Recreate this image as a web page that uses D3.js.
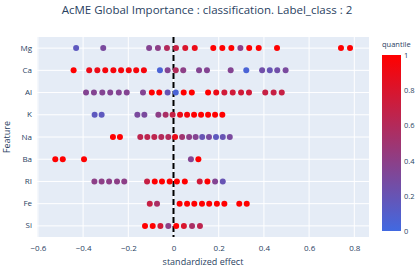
<!DOCTYPE html>
<html>
<head>
<meta charset="utf-8">
<script src="https://cdn.jsdelivr.net/npm/d3@7"></script>
<style>
  body { margin: 0; background: #fff; }
  text { font-family: "Open Sans", "DejaVu Sans", sans-serif; fill: #2a3f5f; }
</style>
</head>
<body>
<div id="chart"></div>
<script>
// Features, top to bottom
const features = ['Mg', 'Ca', 'Al', 'K', 'Na', 'Ba', 'RI', 'Fe', 'Si'];

// Standardized effect per feature
const effects = {
    Mg: [-0.431, -0.311, -0.108, -0.069, -0.029, 0.011, 0.052, 0.094, 0.176, 0.216, 0.256, 0.296, 0.335, 0.377, 0.458, 0.741, 0.781],
    Ca: [-0.442, -0.373, -0.337, -0.302, -0.266, -0.232, -0.198, -0.165, -0.131, -0.060, -0.026, 0.010, 0.043, 0.113, 0.148, 0.253, 0.322, 0.392, 0.426, 0.459, 0.496],
    Al: [-0.387, -0.352, -0.315, -0.280, -0.242, -0.207, -0.135, -0.096, -0.063, -0.026, 0.010, 0.045, 0.081, 0.153, 0.189, 0.225, 0.262, 0.299, 0.334, 0.406, 0.443, 0.479],
    K:  [-0.349, -0.318, -0.160, -0.129, -0.067, -0.035, -0.004, 0.029, 0.060, 0.091, 0.122, 0.153, 0.184, 0.216],
    Na: [-0.268, -0.237, -0.147, -0.116, -0.085, -0.054, -0.023, 0.007, 0.038, 0.069, 0.098, 0.127, 0.157, 0.188, 0.218, 0.249],
    Ba: [-0.523, -0.490, -0.396, 0.077, 0.110],
    RI: [-0.350, -0.318, -0.285, -0.250, -0.218, -0.117, -0.083, -0.051, -0.017, 0.015, 0.050, 0.116, 0.150, 0.184, 0.218],
    Fe: [-0.105, -0.073, 0.027, 0.060, 0.092, 0.126, 0.158, 0.192, 0.225, 0.291, 0.324],
    Si: [-0.126, -0.092, -0.058, -0.023, 0.012, 0.046, 0.082, 0.117]
};

// Quantile (colour) for each point, same order
const quantiles = {
    Mg: [0.15, 0.3, 0.35, 0.4, 0.6, 0.7, 0.8, 0.9, 1, 1, 1, 0.4, 1, 1, 1, 1, 1],
    Ca: [1, 0.9, 0.9, 0.95, 0.95, 0.95, 0.95, 0.95, 0.95, 0.05, 0.35, 0.6, 0.4, 0.35, 0.35, 0.35, 0.05, 0.25, 0.2, 0.25, 0.3],
    Al: [0.35, 0.35, 0.35, 0.35, 0.35, 0.35, 0.35, 1, 1, 0.2, 0.05, 1, 1, 1, 0.9, 0.75, 0.75, 0.75, 0.75, 0.7, 0.7, 0.7],
    K:  [0.15, 0.15, 0.3, 0.3, 0.4, 0.55, 0.7, 0.9, 0.95, 1, 1, 1, 1, 1],
    Na: [1, 1, 0.65, 0.65, 0.65, 0.6, 0.6, 0.9, 0.5, 0.4, 0.35, 0.2, 0.3, 0.15, 0.2, 0.3],
    Ba: [1, 1, 1, 0.35, 1],
    RI: [0.4, 0.4, 0.4, 0.4, 0.4, 0.7, 1, 1, 1, 1, 1, 0.75, 1, 0.35, 0.2],
    Fe: [0.7, 0.55, 1, 1, 1, 1, 1, 1, 1, 1, 1],
    Si: [1, 1, 0.75, 0.4, 1, 0.8, 0.55, 0.65]
};

const xTicks = [-0.6, -0.4, -0.2, 0, 0.2, 0.4, 0.6, 0.8];
const cbTicks = [0, 0.2, 0.4, 0.6, 0.8, 1];

const width = 416, height = 267;
const plot = { left: 37, right: 369, top: 37, bottom: 237 };

const svg = d3.select('#chart').append('svg')
    .attr('width', width)
    .attr('height', height);

const x = d3.scaleLinear().domain([-0.604, 0.865]).range([plot.left, plot.right]);
const y = d3.scaleBand().domain(features).range([plot.top, plot.bottom]);
const color = d3.scaleLinear().domain([0, 1]).range(['rgb(65,105,225)', 'rgb(255,0,0)']);

// Plot background
svg.append('rect')
    .attr('x', plot.left).attr('y', plot.top)
    .attr('width', plot.right - plot.left).attr('height', plot.bottom - plot.top)
    .attr('fill', '#E5ECF6');

// Grid lines
svg.append('g').selectAll('line')
    .data(xTicks)
    .enter().append('line')
    .attr('x1', d => x(d)).attr('x2', d => x(d))
    .attr('y1', plot.top).attr('y2', plot.bottom)
    .attr('stroke', '#fff').attr('stroke-width', 1);

svg.append('g').selectAll('line')
    .data(features)
    .enter().append('line')
    .attr('x1', plot.left).attr('x2', plot.right)
    .attr('y1', d => y(d) + y.bandwidth() / 2).attr('y2', d => y(d) + y.bandwidth() / 2)
    .attr('stroke', '#fff').attr('stroke-width', 1);

// X axis
const xAxis = svg.append('g')
    .attr('transform', `translate(0,${plot.bottom})`)
    .call(d3.axisBottom(x).tickValues(xTicks).tickSize(0).tickPadding(8)
        .tickFormat(d => d === 0 ? '0' : d3.format('.1f')(d).replace('-', '\u2212')));
xAxis.select('.domain').remove();
xAxis.selectAll('text').style('font-size', '8px').attr('fill', '#2a3f5f');

// Y axis
const yAxis = svg.append('g')
    .attr('transform', `translate(${plot.left},0)`)
    .call(d3.axisLeft(y).tickSize(0).tickPadding(5));
yAxis.select('.domain').remove();
yAxis.selectAll('text').style('font-size', '8px').attr('fill', '#2a3f5f');

// Zero line
svg.append('line')
    .attr('x1', x(0)).attr('x2', x(0))
    .attr('y1', plot.top).attr('y2', plot.bottom)
    .attr('stroke', '#000').attr('stroke-width', 2)
    .attr('stroke-dasharray', '6,3');

// Points
const points = features.flatMap(f => effects[f].map((v, i) => ({ f, v, q: quantiles[f][i] })));
svg.append('g').selectAll('circle')
    .data(points)
    .enter().append('circle')
    .attr('cx', d => x(d.v))
    .attr('cy', d => y(d.f) + y.bandwidth() / 2)
    .attr('r', 3)
    .attr('fill', d => color(d.q));

// Titles
svg.append('text')
    .attr('x', 207).attr('y', 14)
    .attr('text-anchor', 'middle')
    .style('font-size', '11.5px')
    .text('AcME Global Importance : classification. Label_class : 2');

svg.append('text')
    .attr('x', (plot.left + plot.right) / 2).attr('y', 265)
    .attr('text-anchor', 'middle')
    .style('font-size', '9px')
    .text('standardized effect');

svg.append('text')
    .attr('transform', `translate(10,${(plot.top + plot.bottom) / 2}) rotate(-90)`)
    .attr('text-anchor', 'middle')
    .style('font-size', '9px')
    .text('Feature');

// Colorbar
const cb = { x: 382, w: 19, top: 55, bottom: 231 };
const defs = svg.append('defs');
const grad = defs.append('linearGradient')
    .attr('id', 'cbgrad')
    .attr('x1', 0).attr('y1', 1).attr('x2', 0).attr('y2', 0);
grad.append('stop').attr('offset', '0%').attr('stop-color', color(0));
grad.append('stop').attr('offset', '100%').attr('stop-color', color(1));

svg.append('rect')
    .attr('x', cb.x).attr('y', cb.top)
    .attr('width', cb.w).attr('height', cb.bottom - cb.top)
    .attr('fill', 'url(#cbgrad)');

const cbScale = d3.scaleLinear().domain([0, 1]).range([cb.bottom, cb.top]);
const cbAxis = svg.append('g')
    .attr('transform', `translate(${cb.x + cb.w},0)`)
    .call(d3.axisRight(cbScale).tickValues(cbTicks).tickSize(0).tickPadding(3)
        .tickFormat(d => d3.format('~g')(d)));
cbAxis.select('.domain').remove();
cbAxis.selectAll('text').style('font-size', '7.5px').attr('fill', '#2a3f5f');

svg.append('text')
    .attr('x', cb.x).attr('y', 47)
    .style('font-size', '7.5px')
    .text('quantile');
</script>
</body>
</html>
